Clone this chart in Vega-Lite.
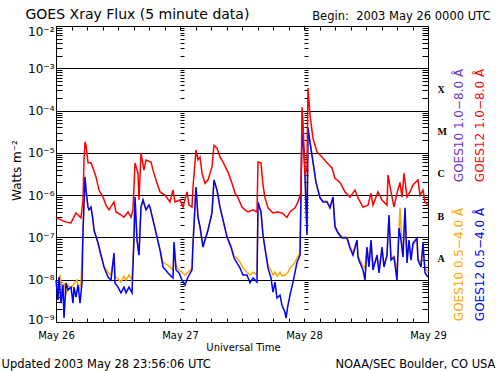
{
  "$schema": "https://vega.github.io/schema/vega-lite/v6.json",
  "width": 372,
  "height": 296,
  "autosize": {"type": "none"},
  "padding": {"left": 56, "top": 26, "right": 72, "bottom": 49},
  "background": "white",
  "config": {
    "view": {"stroke": null},
    "axis": {"labelFont": "DejaVu Sans", "titleFont": "DejaVu Sans", "domainColor": "black", "tickColor": "black", "labelColor": "black", "titleColor": "black", "titleFontWeight": "normal", "labelFlush": false, "labelOverlap": false, "grid": false, "domainWidth": 1, "tickWidth": 1}
  },
  "datasets": {
    "g12l": [
      {"h":0,"v":2.9e-7},{"h":0.97,"v":2.6e-7},{"h":1.94,"v":2.3e-7},{"h":2.9,"v":2.2e-7},{"h":3.87,"v":3.8e-7},{"h":4.84,"v":2.9e-7},{"h":5.23,"v":7.7e-7},{"h":5.42,"v":6.8e-6},{"h":5.61,"v":1.8e-5},{"h":5.81,"v":1.5e-5},{"h":6.19,"v":5.8e-6},{"h":6.77,"v":5.8e-6},{"h":7.16,"v":4.4e-6},{"h":7.74,"v":2.7e-6},{"h":8.32,"v":1.32e-6},{"h":9.1,"v":9.0e-7},{"h":9.68,"v":5.8e-7},{"h":10.26,"v":4.5e-7},{"h":11.23,"v":6.9e-7},{"h":11.61,"v":4.0e-7},{"h":12.58,"v":3.4e-7},{"h":13.16,"v":3.0e-7},{"h":13.94,"v":4.0e-7},{"h":14.52,"v":3.0e-7},{"h":14.9,"v":4.5e-7},{"h":15.29,"v":5.8e-6},{"h":15.87,"v":3.3e-6},{"h":16.06,"v":7.7e-7},{"h":16.45,"v":9.9e-6},{"h":17.03,"v":3.9e-6},{"h":17.42,"v":6.8e-6},{"h":18.39,"v":6.1e-6},{"h":18.77,"v":3.9e-6},{"h":19.55,"v":1.9e-6},{"h":20.13,"v":1.19e-6},{"h":21.1,"v":1.0e-6},{"h":22.06,"v":6.9e-7},{"h":22.65,"v":1.32e-6},{"h":23.03,"v":6.9e-7},{"h":24.0,"v":7.7e-7},{"h":24.58,"v":5.2e-7},{"h":25.35,"v":1.19e-6},{"h":25.74,"v":5.8e-7},{"h":26.32,"v":5.2e-7},{"h":26.52,"v":1.56e-6},{"h":27.1,"v":1.17e-5},{"h":27.48,"v":6.8e-6},{"h":27.87,"v":8.0e-6},{"h":28.26,"v":3.3e-6},{"h":28.84,"v":1.9e-6},{"h":29.42,"v":2.3e-6},{"h":30.19,"v":4.6e-6},{"h":30.58,"v":1.5e-5},{"h":31.16,"v":1.3e-5},{"h":31.74,"v":8.0e-6},{"h":32.32,"v":6.1e-6},{"h":33.29,"v":3.5e-6},{"h":34.06,"v":1.9e-6},{"h":34.65,"v":1.12e-6},{"h":35.23,"v":8.6e-7},{"h":36.0,"v":5.2e-7},{"h":36.58,"v":4.5e-7},{"h":37.16,"v":4.0e-7},{"h":38.13,"v":4.5e-7},{"h":38.9,"v":4.0e-7},{"h":39.1,"v":6.1e-6},{"h":39.68,"v":5.8e-6},{"h":40.06,"v":1.74e-6},{"h":40.45,"v":8.6e-7},{"h":41.03,"v":5.0e-7},{"h":42.0,"v":3.8e-7},{"h":42.77,"v":4.0e-7},{"h":43.74,"v":3.8e-7},{"h":44.71,"v":3.0e-7},{"h":45.29,"v":4.0e-7},{"h":46.26,"v":5.0e-7},{"h":46.84,"v":6.9e-7},{"h":47.42,"v":1.19e-6},{"h":47.61,"v":1.2e-4},{"h":47.81,"v":5.4e-5},{"h":48.19,"v":3.0e-6},{"h":48.58,"v":4.4e-6},{"h":48.77,"v":3.4e-4},{"h":49.16,"v":7.9e-5},{"h":49.74,"v":2.2e-5},{"h":50.52,"v":1.05e-5},{"h":51.48,"v":8.0e-6},{"h":52.45,"v":5.8e-6},{"h":53.42,"v":4.4e-6},{"h":54.0,"v":2.5e-6},{"h":54.97,"v":2.0e-6},{"h":55.94,"v":1.19e-6},{"h":56.9,"v":9.0e-7},{"h":57.87,"v":1.32e-6},{"h":58.45,"v":8.6e-7},{"h":59.42,"v":5.2e-7},{"h":60.39,"v":5.8e-7},{"h":60.97,"v":1.12e-6},{"h":61.35,"v":5.8e-7},{"h":62.32,"v":1.19e-6},{"h":63.1,"v":7.7e-7},{"h":64.06,"v":5.8e-7},{"h":64.26,"v":3.0e-6},{"h":64.84,"v":1.19e-6},{"h":65.42,"v":5.2e-7},{"h":66.0,"v":1.12e-6},{"h":66.58,"v":2.0e-6},{"h":66.97,"v":9.0e-7},{"h":67.35,"v":3.3e-6},{"h":67.94,"v":9.0e-7},{"h":68.52,"v":1.19e-6},{"h":69.1,"v":1.74e-6},{"h":70.06,"v":2.3e-6},{"h":70.45,"v":1.0e-6},{"h":71.03,"v":1.32e-6},{"h":71.42,"v":6.9e-7},{"h":72.0,"v":5.8e-7}
    ],
    "g12s": [
      {"h":0,"v":9.8e-9},{"h":0.39,"v":3.3e-9},{"h":0.58,"v":1.16e-8},{"h":0.97,"v":2.8e-9},{"h":1.35,"v":7.5e-9},{"h":1.55,"v":1.24e-9},{"h":1.94,"v":8.4e-9},{"h":2.32,"v":5.7e-9},{"h":2.9,"v":6.7e-9},{"h":3.29,"v":2.8e-9},{"h":3.48,"v":6.7e-9},{"h":3.87,"v":3.9e-9},{"h":4.26,"v":7.5e-9},{"h":4.65,"v":2.8e-9},{"h":5.03,"v":8.4e-9},{"h":5.23,"v":1.5e-7},{"h":5.61,"v":2.7e-6},{"h":5.81,"v":1.32e-6},{"h":6.19,"v":5.2e-7},{"h":6.39,"v":4.5e-7},{"h":6.77,"v":5.2e-7},{"h":7.16,"v":2.6e-7},{"h":7.35,"v":1.5e-7},{"h":8.13,"v":7.4e-8},{"h":8.71,"v":3.8e-8},{"h":9.29,"v":2.0e-8},{"h":10.06,"v":1.16e-8},{"h":10.65,"v":9.8e-9},{"h":11.23,"v":4.3e-8},{"h":11.42,"v":8.4e-9},{"h":12.0,"v":6.7e-9},{"h":12.58,"v":4.9e-9},{"h":13.16,"v":6.7e-9},{"h":13.55,"v":4.9e-9},{"h":14.13,"v":6.7e-9},{"h":14.71,"v":4.9e-9},{"h":15.1,"v":1.02e-7},{"h":15.29,"v":9.0e-7},{"h":15.68,"v":8.7e-8},{"h":16.06,"v":3.8e-8},{"h":16.45,"v":5.2e-7},{"h":16.84,"v":7.7e-7},{"h":17.42,"v":4.5e-7},{"h":18.0,"v":5.8e-7},{"h":18.19,"v":5.2e-7},{"h":18.77,"v":2.6e-7},{"h":19.55,"v":1.02e-7},{"h":20.13,"v":5.0e-8},{"h":20.71,"v":2.0e-8},{"h":21.68,"v":1.44e-8},{"h":22.65,"v":1.1e-8},{"h":22.84,"v":7.8e-8},{"h":23.23,"v":1.7e-8},{"h":23.81,"v":1.44e-8},{"h":24.39,"v":9.8e-9},{"h":24.97,"v":7.5e-9},{"h":25.55,"v":1.16e-8},{"h":26.32,"v":1.7e-8},{"h":26.52,"v":7.4e-8},{"h":27.1,"v":1.56e-6},{"h":27.48,"v":3.0e-7},{"h":27.87,"v":1.77e-7},{"h":28.45,"v":5.9e-8},{"h":28.84,"v":8.7e-8},{"h":29.42,"v":1.5e-7},{"h":30.19,"v":3.8e-7},{"h":30.58,"v":2.3e-6},{"h":31.16,"v":1.32e-6},{"h":31.74,"v":5.2e-7},{"h":32.32,"v":2.6e-7},{"h":33.1,"v":1.02e-7},{"h":33.87,"v":5.9e-8},{"h":34.45,"v":3.3e-8},{"h":35.03,"v":2.5e-8},{"h":35.61,"v":1.9e-8},{"h":36.19,"v":1.29e-8},{"h":36.97,"v":1.29e-8},{"h":37.55,"v":8.4e-9},{"h":38.13,"v":1.1e-8},{"h":38.9,"v":8.8e-9},{"h":39.1,"v":6.9e-7},{"h":39.68,"v":4.0e-7},{"h":40.06,"v":1.14e-7},{"h":40.65,"v":3.8e-8},{"h":41.03,"v":1.9e-8},{"h":41.61,"v":1.1e-8},{"h":42.0,"v":5.1e-9},{"h":42.39,"v":8.8e-9},{"h":42.77,"v":3.7e-9},{"h":43.35,"v":4.3e-9},{"h":43.74,"v":2.5e-9},{"h":44.32,"v":1.7e-9},{"h":44.52,"v":1.24e-9},{"h":44.9,"v":2.5e-9},{"h":45.29,"v":4.3e-9},{"h":45.87,"v":8.8e-9},{"h":46.26,"v":1.5e-8},{"h":46.65,"v":2.6e-8},{"h":47.23,"v":3.8e-8},{"h":47.42,"v":1.19e-6},{"h":47.61,"v":3.1e-5},{"h":48.0,"v":1.05e-5},{"h":48.19,"v":3.0e-6},{"h":48.58,"v":1.14e-7},{"h":48.77,"v":3.9e-5},{"h":49.16,"v":1.8e-5},{"h":49.74,"v":6.1e-6},{"h":50.32,"v":2.0e-6},{"h":51.1,"v":8.6e-7},{"h":51.68,"v":6.9e-7},{"h":52.45,"v":6.9e-7},{"h":53.03,"v":5.0e-7},{"h":53.61,"v":9.0e-7},{"h":54.0,"v":1.77e-7},{"h":54.58,"v":1.27e-7},{"h":55.35,"v":9.7e-8},{"h":56.32,"v":9.7e-8},{"h":56.9,"v":5.6e-8},{"h":57.48,"v":3.8e-8},{"h":58.26,"v":8.7e-8},{"h":58.45,"v":3.4e-8},{"h":58.84,"v":2.5e-8},{"h":59.42,"v":1.7e-8},{"h":59.81,"v":9.8e-9},{"h":60.19,"v":5.9e-8},{"h":60.58,"v":2.0e-8},{"h":60.97,"v":8.7e-8},{"h":61.35,"v":1.7e-8},{"h":62.13,"v":3.8e-8},{"h":62.52,"v":1.44e-8},{"h":63.1,"v":5.9e-8},{"h":63.48,"v":2.0e-8},{"h":64.06,"v":3.8e-8},{"h":64.45,"v":3.4e-7},{"h":64.84,"v":2.9e-8},{"h":65.42,"v":3.4e-8},{"h":66.0,"v":9.8e-9},{"h":66.39,"v":1.67e-7},{"h":66.77,"v":8.7e-8},{"h":67.16,"v":3.4e-8},{"h":67.55,"v":5.0e-7},{"h":67.94,"v":2.5e-8},{"h":68.32,"v":8.7e-8},{"h":68.71,"v":2.9e-8},{"h":69.1,"v":7.4e-8},{"h":69.87,"v":9.7e-8},{"h":70.06,"v":2.9e-8},{"h":70.65,"v":2.0e-8},{"h":71.03,"v":7.4e-8},{"h":71.42,"v":1.44e-8},{"h":72.0,"v":1.16e-8}
    ],
    "g10s": [
      {"h":0,"v":7.5e-9},{"h":0.39,"v":5.7e-9},{"h":0.77,"v":1.29e-8},{"h":1.16,"v":5.1e-9},{"h":1.55,"v":8.4e-9},{"h":1.94,"v":4.3e-9},{"h":2.32,"v":7.5e-9},{"h":2.9,"v":6.3e-9},{"h":3.48,"v":8.0e-9},{"h":4.06,"v":9.8e-9},{"h":4.45,"v":5.7e-9},{"h":4.84,"v":8.8e-9},{"h":5.23,"v":1.35e-7},{"h":5.61,"v":2.5e-6},{"h":5.81,"v":1.32e-6},{"h":6.19,"v":5.2e-7},{"h":6.39,"v":4.5e-7},{"h":6.77,"v":5.2e-7},{"h":7.16,"v":2.6e-7},{"h":7.35,"v":1.5e-7},{"h":8.13,"v":7.4e-8},{"h":8.71,"v":3.8e-8},{"h":9.29,"v":2.1e-8},{"h":10.06,"v":1.5e-8},{"h":10.65,"v":1.29e-8},{"h":11.23,"v":3.8e-8},{"h":11.42,"v":1.22e-8},{"h":12.0,"v":1.04e-8},{"h":12.58,"v":8.8e-9},{"h":13.16,"v":1.22e-8},{"h":13.55,"v":9.8e-9},{"h":14.13,"v":1.29e-8},{"h":14.71,"v":9.8e-9},{"h":15.1,"v":1.02e-7},{"h":15.29,"v":8.6e-7},{"h":15.68,"v":8.7e-8},{"h":16.06,"v":3.8e-8},{"h":16.45,"v":5.2e-7},{"h":16.84,"v":7.7e-7},{"h":17.42,"v":4.5e-7},{"h":18.0,"v":5.8e-7},{"h":18.19,"v":5.2e-7},{"h":18.77,"v":2.6e-7},{"h":19.55,"v":1.02e-7},{"h":20.13,"v":5.3e-8},{"h":20.71,"v":2.6e-8},{"h":21.68,"v":2.2e-8},{"h":22.65,"v":1.7e-8},{"h":22.84,"v":7.0e-8},{"h":23.23,"v":2.2e-8},{"h":23.81,"v":1.7e-8},{"h":24.39,"v":1.5e-8},{"h":24.97,"v":1.29e-8},{"h":25.55,"v":1.5e-8},{"h":26.32,"v":1.9e-8},{"h":26.52,"v":7.4e-8},{"h":27.1,"v":1.5e-6},{"h":27.48,"v":3.0e-7},{"h":27.87,"v":1.77e-7},{"h":28.45,"v":6.2e-8},{"h":28.84,"v":8.7e-8},{"h":29.42,"v":1.5e-7},{"h":30.19,"v":3.8e-7},{"h":30.58,"v":2.2e-6},{"h":31.16,"v":1.32e-6},{"h":31.74,"v":5.2e-7},{"h":32.32,"v":2.6e-7},{"h":33.1,"v":1.07e-7},{"h":33.87,"v":6.5e-8},{"h":34.45,"v":3.6e-8},{"h":35.03,"v":3.3e-8},{"h":35.61,"v":2.6e-8},{"h":36.19,"v":1.9e-8},{"h":36.97,"v":1.5e-8},{"h":37.55,"v":1.29e-8},{"h":38.13,"v":1.5e-8},{"h":38.9,"v":1.29e-8},{"h":39.1,"v":6.5e-7},{"h":39.68,"v":4.0e-7},{"h":40.06,"v":1.14e-7},{"h":40.65,"v":4.0e-8},{"h":41.03,"v":2.2e-8},{"h":41.61,"v":1.7e-8},{"h":42.0,"v":1.29e-8},{"h":42.39,"v":1.5e-8},{"h":42.77,"v":1.22e-8},{"h":43.35,"v":1.5e-8},{"h":43.74,"v":1.22e-8},{"h":44.32,"v":1.29e-8},{"h":44.9,"v":1.5e-8},{"h":45.29,"v":1.9e-8},{"h":45.87,"v":2.2e-8},{"h":46.26,"v":2.6e-8},{"h":46.65,"v":3.3e-8},{"h":47.23,"v":4.3e-8},{"h":47.42,"v":1.19e-6},{"h":47.61,"v":2.9e-5},{"h":48.0,"v":1.05e-5},{"h":48.19,"v":3.0e-6},{"h":48.58,"v":1.14e-7},{"h":48.77,"v":3.7e-5},{"h":49.16,"v":1.8e-5},{"h":49.74,"v":6.1e-6},{"h":50.32,"v":2.0e-6},{"h":51.1,"v":9.0e-7},{"h":51.68,"v":7.3e-7},{"h":52.45,"v":7.3e-7},{"h":53.03,"v":5.2e-7},{"h":53.61,"v":9.0e-7},{"h":54.0,"v":1.87e-7},{"h":54.58,"v":1.35e-7},{"h":55.35,"v":1.02e-7},{"h":56.32,"v":1.02e-7},{"h":56.9,"v":6.2e-8},{"h":57.48,"v":4.3e-8},{"h":58.26,"v":8.2e-8},{"h":58.45,"v":3.8e-8},{"h":58.84,"v":2.9e-8},{"h":59.42,"v":2.1e-8},{"h":59.81,"v":1.9e-8},{"h":60.19,"v":5.6e-8},{"h":60.58,"v":2.5e-8},{"h":60.97,"v":7.8e-8},{"h":61.35,"v":2.2e-8},{"h":62.13,"v":3.6e-8},{"h":62.52,"v":1.9e-8},{"h":63.1,"v":5.3e-8},{"h":63.48,"v":2.2e-8},{"h":64.06,"v":3.6e-8},{"h":64.45,"v":3.0e-7},{"h":64.84,"v":3.3e-8},{"h":65.42,"v":3.6e-8},{"h":66.0,"v":1.7e-8},{"h":66.39,"v":1.5e-7},{"h":66.58,"v":5.0e-7},{"h":66.97,"v":6.5e-8},{"h":67.16,"v":3.8e-8},{"h":67.55,"v":4.5e-7},{"h":67.94,"v":2.9e-8},{"h":68.32,"v":7.8e-8},{"h":68.71,"v":3.3e-8},{"h":69.1,"v":6.5e-8},{"h":69.87,"v":8.7e-8},{"h":70.06,"v":3.3e-8},{"h":70.65,"v":2.4e-8},{"h":71.03,"v":6.5e-8},{"h":71.42,"v":1.9e-8},{"h":72.0,"v":1.5e-8}
    ]
  },
  "resolve": {"axis": {"x": "independent", "y": "independent"}},
  "layer": [
    {
      "data": {"name": "g10s"},
      "mark": {"type": "line", "color": "#FFA500", "strokeWidth": 1.5},
      "encoding": {
        "x": {"field": "h", "type": "quantitative", "scale": {"domain": [0, 72], "nice": false, "zero": false},
          "axis": {"orient": "bottom", "values": [0, 24, 48, 72], "labelExpr": "['May 26','May 27','May 28','May 29'][round(datum.value/24)]", "ticks": false, "domain": true, "labelFontSize": 10, "labelPadding": 8, "title": "Universal Time", "titleFontSize": 10, "titleX": 187, "titleY": 28, "titleAlign": "center", "titleBaseline": "alphabetic", "titleAngle": 0}},
        "y": {"field": "v", "type": "quantitative", "scale": {"type": "log", "domain": [1e-9, 1e-2], "nice": false},
          "axis": {"orient": "left", "values": [1e-9, 1e-8, 1e-7, 1e-6, 1e-5, 1e-4, 1e-3, 1e-2], "labelExpr": "'10⁻' + ['⁰','¹','²','³','⁴','⁵','⁶','⁷','⁸','⁹'][round(-log(datum.value)/LN10)]", "ticks": false, "domain": true, "labelFontSize": 12, "labelPadding": 2, "labelBaseline": "middle", "labelOffset": {"condition": [{"test": "datum.value > 0.005", "value": 5}, {"test": "datum.value < 2e-9", "value": -3}], "value": 0}, "title": "Watts m⁻²", "titleFontSize": 12, "titleX": -36, "titleY": 144, "titleAngle": 270, "titleAlign": "center", "titleBaseline": "alphabetic"}}
      }
    },
    {
      "data": {"name": "g12s"},
      "mark": {"type": "line", "color": "#0000FF", "strokeWidth": 1.5},
      "encoding": {
        "x": {"field": "h", "type": "quantitative", "scale": {"domain": [0, 72], "nice": false, "zero": false},
          "axis": {"orient": "top", "domain": true, "ticks": false, "labels": false, "title": "Begin:\u00a0 2003 May 26 0000 UTC", "titleFontSize": 11.5, "titleX": 434, "titleY": -7, "titleAlign": "right", "titleBaseline": "alphabetic", "titleAngle": 0}},
        "y": {"field": "v", "type": "quantitative", "scale": {"type": "log", "domain": [1e-9, 1e-2], "nice": false},
          "axis": {"orient": "left", "offset": -372, "domain": false, "labels": false, "ticks": true, "tickSize": 6,
            "values": [1e-9,2e-9,3e-9,4e-9,5e-9,6e-9,7e-9,8e-9,9e-9,1e-8,2e-8,3e-8,4e-8,5e-8,6e-8,7e-8,8e-8,9e-8,1e-7,2e-7,3e-7,4e-7,5e-7,6e-7,7e-7,8e-7,9e-7,1e-6,2e-6,3e-6,4e-6,5e-6,6e-6,7e-6,8e-6,9e-6,1e-5,2e-5,3e-5,4e-5,5e-5,6e-5,7e-5,8e-5,9e-5,1e-4,2e-4,3e-4,4e-4,5e-4,6e-4,7e-4,8e-4,9e-4,1e-3,2e-3,3e-3,4e-3,5e-3,6e-3,7e-3,8e-3,9e-3,1e-2],
            "title": "GOES12 1.0−8.0 Å", "titleColor": "#FF0000", "titleFontSize": 12, "titleX": 55, "titleY": 99, "titleAngle": 270, "titleAlign": "center", "titleBaseline": "alphabetic"}}
      }
    },
    {
      "data": {"name": "g12l"},
      "mark": {"type": "line", "color": "#FF0000", "strokeWidth": 1.5},
      "encoding": {
        "x": {"field": "h", "type": "quantitative", "scale": {"domain": [0, 72], "nice": false, "zero": false},
          "axis": {"orient": "top", "offset": -296, "domain": false, "labels": false, "ticks": true, "tickSize": 4,
            "values": [0,3,6,9,12,15,18,21,24,27,30,33,36,39,42,45,48,51,54,57,60,63,66,69,72],
            "title": "Updated 2003 May 28 23:56:06 UTC", "titleFontSize": 11.5, "titleX": -55, "titleY": 45, "titleAlign": "left", "titleBaseline": "alphabetic", "titleAngle": 0}},
        "y": {"field": "v", "type": "quantitative", "scale": {"type": "log", "domain": [1e-9, 1e-2], "nice": false},
          "axis": {"orient": "right", "domain": true, "ticks": false, "values": [3.1623e-4, 3.1623e-5, 3.1623e-6, 3.1623e-7, 3.1623e-8],
            "labelExpr": "datum.value > 1e-4 ? 'X' : datum.value > 1e-5 ? 'M' : datum.value > 1e-6 ? 'C' : datum.value > 1e-7 ? 'B' : 'A'",
            "labelFont": "Liberation Serif", "labelFontWeight": "bold", "labelFontSize": 10, "labelPadding": 9, "labelBaseline": "middle", "labelAlign": "left",
            "title": "GOES12 0.5−4.0 Å", "titleColor": "#0000FF", "titleFontSize": 12, "titleX": 55, "titleY": 238, "titleAngle": 270, "titleAlign": "center", "titleBaseline": "alphabetic"}}
      }
    },
    {
      "data": {"name": "g12l"},
      "mark": {"type": "point", "opacity": 0},
      "encoding": {
        "x": {"field": "h", "type": "quantitative", "scale": {"domain": [0, 72], "nice": false, "zero": false},
          "axis": {"orient": "bottom", "offset": -296, "domain": false, "labels": false, "ticks": true, "tickSize": 4,
            "values": [0,3,6,9,12,15,18,21,24,27,30,33,36,39,42,45,48,51,54,57,60,63,66,69,72],
            "title": "NOAA/SEC Boulder, CO USA", "titleFontSize": 11.5, "titleX": 439, "titleY": 341, "titleAlign": "right", "titleBaseline": "alphabetic", "titleAngle": 0}},
        "y": {"field": "v", "type": "quantitative", "scale": {"type": "log", "domain": [1e-9, 1e-2], "nice": false},
          "axis": {"orient": "right", "offset": -372, "domain": false, "labels": false, "ticks": true, "tickSize": 6,
            "values": [1e-9,2e-9,3e-9,4e-9,5e-9,6e-9,7e-9,8e-9,9e-9,1e-8,2e-8,3e-8,4e-8,5e-8,6e-8,7e-8,8e-8,9e-8,1e-7,2e-7,3e-7,4e-7,5e-7,6e-7,7e-7,8e-7,9e-7,1e-6,2e-6,3e-6,4e-6,5e-6,6e-6,7e-6,8e-6,9e-6,1e-5,2e-5,3e-5,4e-5,5e-5,6e-5,7e-5,8e-5,9e-5,1e-4,2e-4,3e-4,4e-4,5e-4,6e-4,7e-4,8e-4,9e-4,1e-3,2e-3,3e-3,4e-3,5e-3,6e-3,7e-3,8e-3,9e-3,1e-2],
            "title": "GOES10 1.0−8.0 Å", "titleColor": "#6A35C8", "titleFontSize": 12, "titleX": 406, "titleY": 99, "titleAngle": 270, "titleAlign": "center", "titleBaseline": "alphabetic"}}
      }
    },
    {
      "data": {"name": "g12l"},
      "mark": {"type": "point", "opacity": 0},
      "encoding": {
        "x": {"field": "h", "type": "quantitative", "scale": {"domain": [0, 72], "nice": false, "zero": false},
          "axis": {"orient": "top", "domain": false, "labels": false, "ticks": false,
            "title": "GOES Xray Flux (5 minute data)", "titleFontSize": 14, "titleX": -31, "titleY": -8, "titleAlign": "left", "titleBaseline": "alphabetic", "titleAngle": 0}},
        "y": {"field": "v", "type": "quantitative", "scale": {"type": "log", "domain": [1e-9, 1e-2], "nice": false},
          "axis": {"orient": "right", "offset": -248, "domain": false, "labels": false, "ticks": true, "tickSize": 4,
            "values": [1e-9,2e-9,3e-9,4e-9,5e-9,6e-9,7e-9,8e-9,9e-9,1e-8,2e-8,3e-8,4e-8,5e-8,6e-8,7e-8,8e-8,9e-8,1e-7,2e-7,3e-7,4e-7,5e-7,6e-7,7e-7,8e-7,9e-7,1e-6,2e-6,3e-6,4e-6,5e-6,6e-6,7e-6,8e-6,9e-6,1e-5,2e-5,3e-5,4e-5,5e-5,6e-5,7e-5,8e-5,9e-5,1e-4,2e-4,3e-4,4e-4,5e-4,6e-4,7e-4,8e-4,9e-4,1e-3,2e-3,3e-3,4e-3,5e-3,6e-3,7e-3,8e-3,9e-3,1e-2],
            "title": "GOES10 0.5−4.0 Å", "titleColor": "#FFA500", "titleFontSize": 12, "titleX": 282, "titleY": 238, "titleAngle": 270, "titleAlign": "center", "titleBaseline": "alphabetic"}}
      }
    },
    {
      "data": {"name": "g12l"},
      "mark": {"type": "point", "opacity": 0},
      "encoding": {
        "x": {"field": "h", "type": "quantitative", "scale": {"domain": [0, 72], "nice": false, "zero": false}, "axis": null},
        "y": {"field": "v", "type": "quantitative", "scale": {"type": "log", "domain": [1e-9, 1e-2], "nice": false},
          "axis": {"orient": "right", "offset": -124, "domain": false, "labels": false, "ticks": true, "tickSize": 4, "title": null,
            "values": [1e-9,2e-9,3e-9,4e-9,5e-9,6e-9,7e-9,8e-9,9e-9,1e-8,2e-8,3e-8,4e-8,5e-8,6e-8,7e-8,8e-8,9e-8,1e-7,2e-7,3e-7,4e-7,5e-7,6e-7,7e-7,8e-7,9e-7,1e-6,2e-6,3e-6,4e-6,5e-6,6e-6,7e-6,8e-6,9e-6,1e-5,2e-5,3e-5,4e-5,5e-5,6e-5,7e-5,8e-5,9e-5,1e-4,2e-4,3e-4,4e-4,5e-4,6e-4,7e-4,8e-4,9e-4,1e-3,2e-3,3e-3,4e-3,5e-3,6e-3,7e-3,8e-3,9e-3,1e-2]}}
      }
    },
    {
      "data": {"name": "g12l"},
      "mark": {"type": "point", "opacity": 0},
      "encoding": {
        "x": {"field": "h", "type": "quantitative", "scale": {"domain": [0, 72], "nice": false, "zero": false}, "axis": null},
        "y": {"field": "v", "type": "quantitative", "scale": {"type": "log", "domain": [1e-9, 1e-2], "nice": false},
          "axis": {"orient": "left", "values": [1e-8, 1e-7, 1e-6, 1e-5, 1e-4, 1e-3], "grid": true, "gridColor": "black", "gridWidth": 1, "gridOpacity": 1, "domain": false, "ticks": false, "labels": false, "title": null}}
      }
    }
  ]
}
